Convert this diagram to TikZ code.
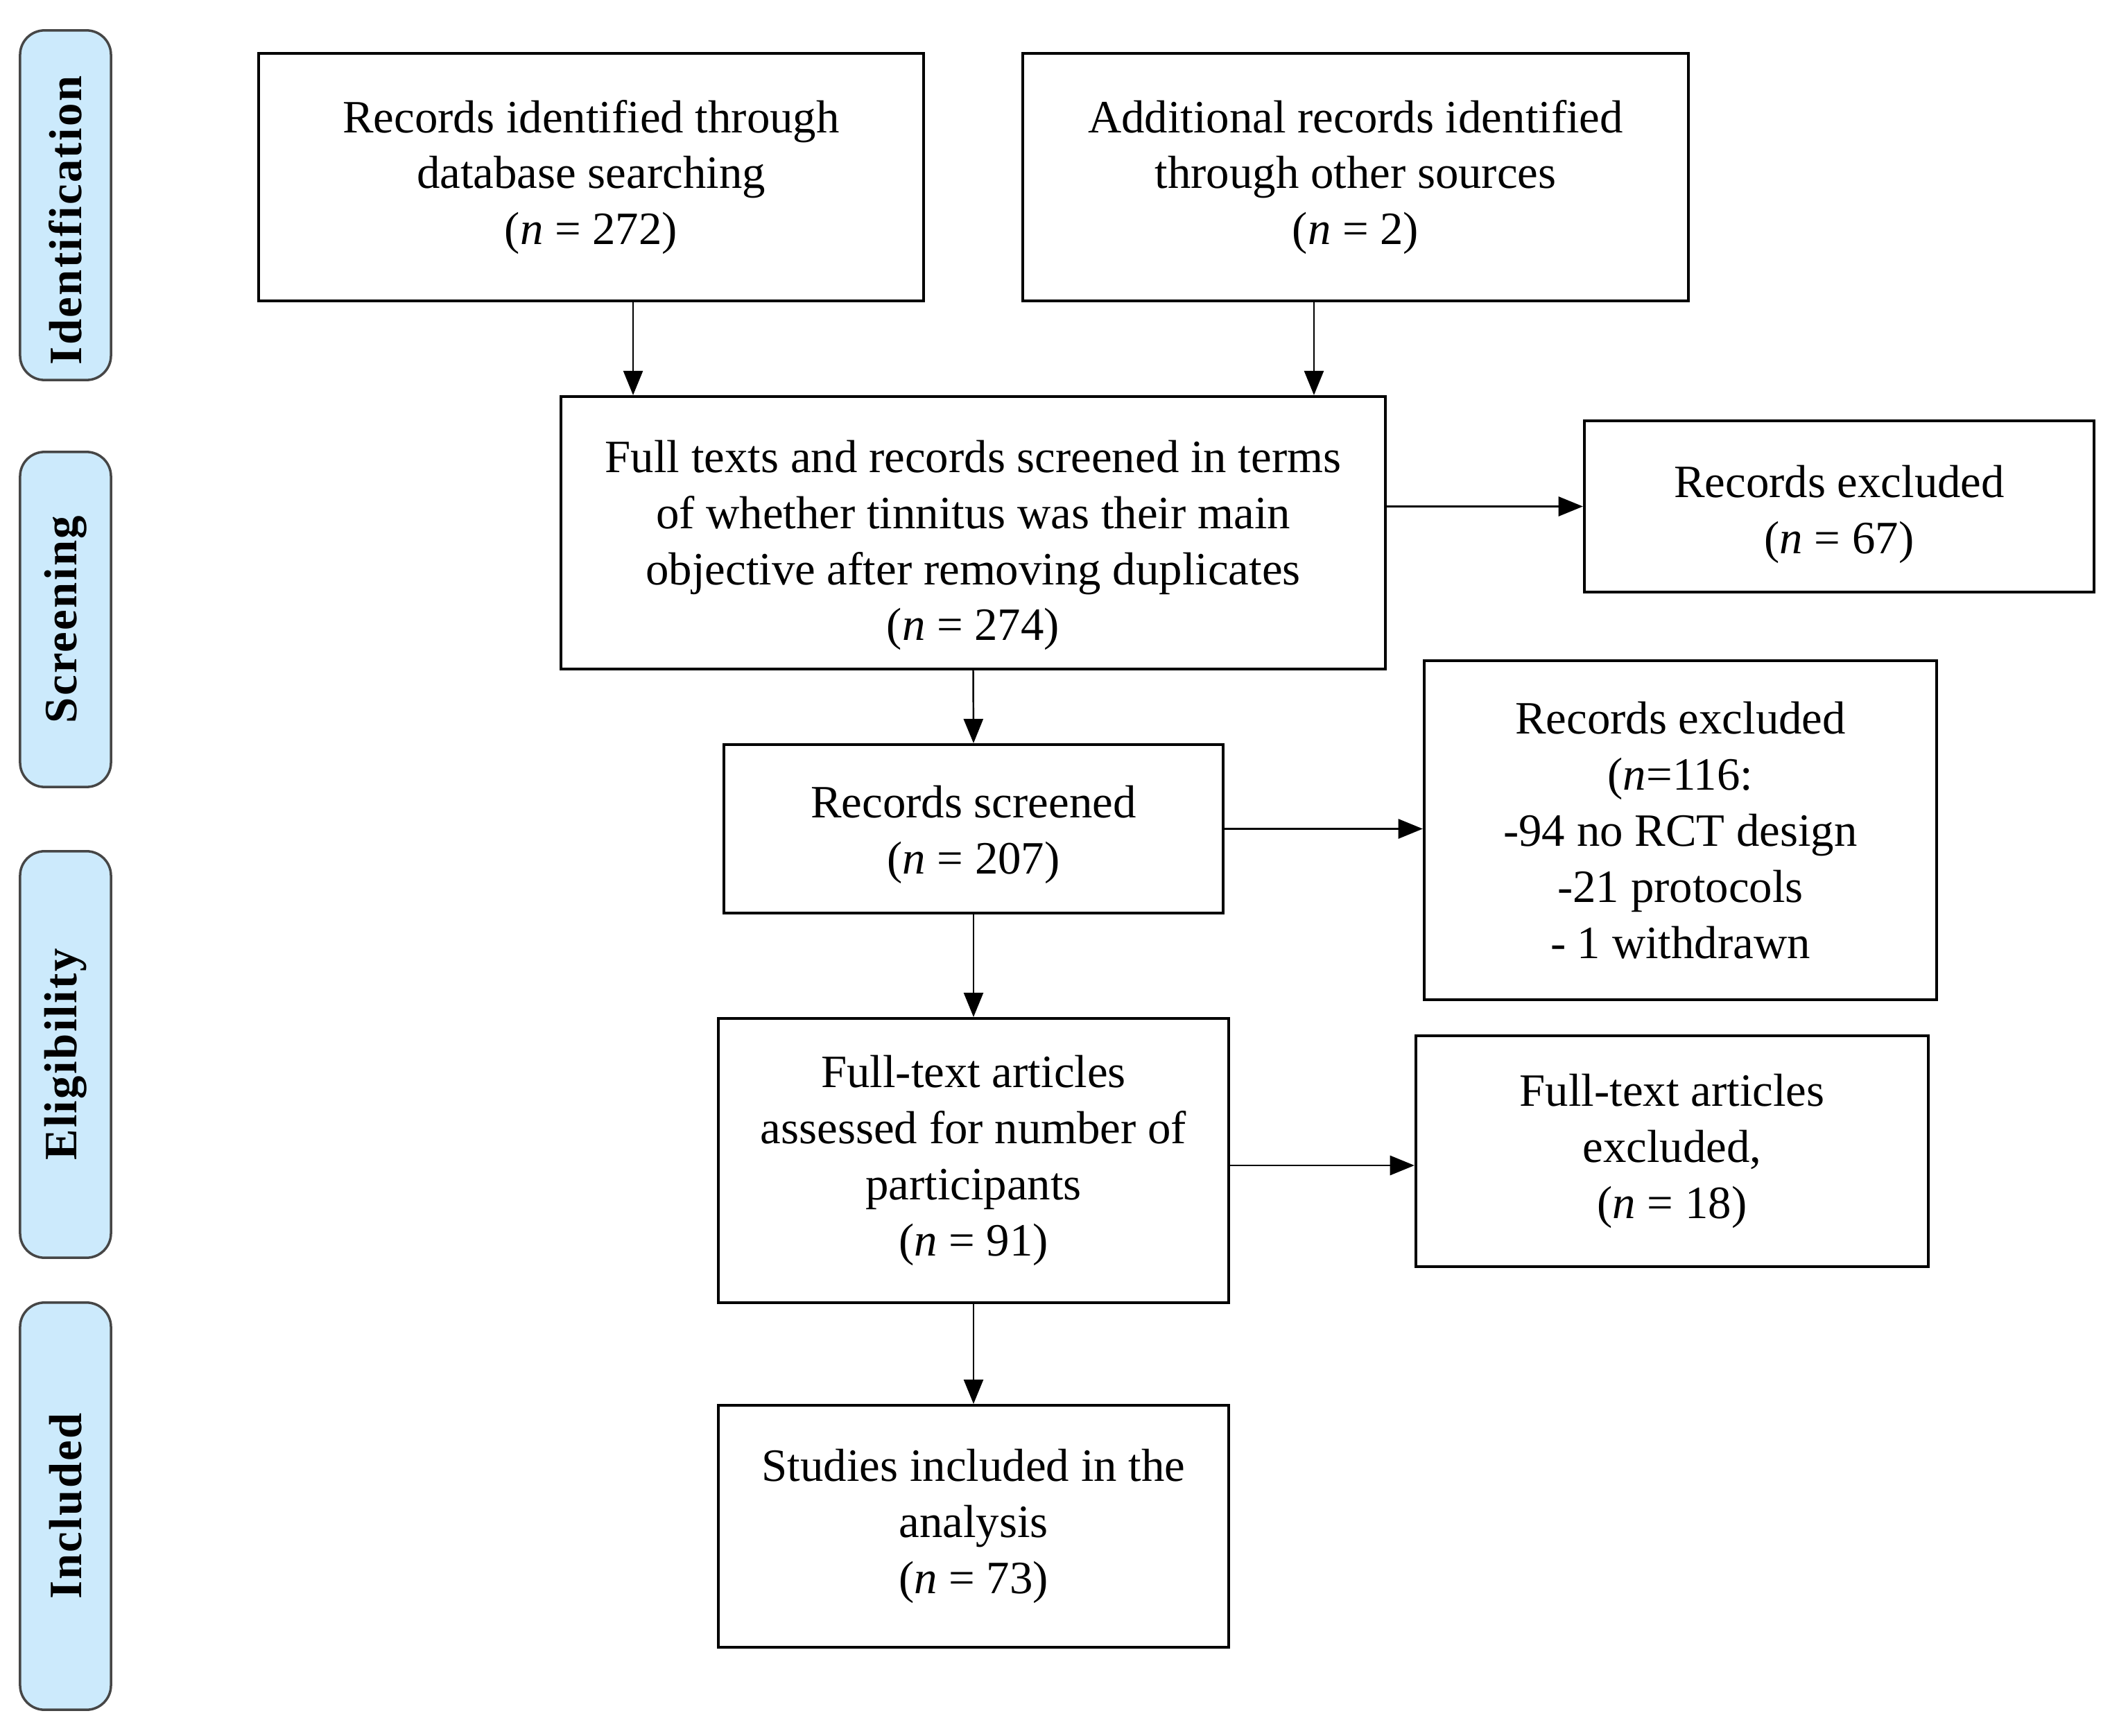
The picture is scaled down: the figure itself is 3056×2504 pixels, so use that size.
\documentclass[tikz,border=0pt]{standalone}
\usepackage{fontspec}
\setmainfont{Liberation Serif}
\usetikzlibrary{arrows.meta}
\definecolor{tabblue}{RGB}{204,234,252}
\definecolor{tabedge}{RGB}{70,70,70}
\begin{document}
\begin{tikzpicture}[x=0.01cm,y=-0.01cm,
  box/.style={draw=black,line width=1.1pt,align=center,inner sep=0pt,font=\fontsize{19}{23}\selectfont},
  txt/.style={align=center,inner sep=0pt,font=\fontsize{19}{23}\selectfont},
  tab/.style={draw=tabedge,fill=tabblue,rounded corners=10pt,line width=1pt,inner sep=0pt,font=\fontsize{19}{20}\selectfont\bfseries\addfontfeatures{LetterSpace=3.5},rotate=90},
  arr/.style={line width=0.7pt,-{Triangle[length=10pt,width=8pt]}}]
\useasboundingbox[fill=white] (0,0) rectangle (3056,2504);

% phase tabs
\node[tab,minimum width=5.04cm,minimum height=1.31cm] (tid) at (94.5,296) {Identification\hspace*{0.44cm}};
\node[tab,minimum width=4.83cm,minimum height=1.31cm] (tsc) at (94.5,893.5) {Screening};
\node[tab,minimum width=5.86cm,minimum height=1.31cm] (tel) at (94.5,1521) {Eligibility};
\node[tab,minimum width=5.87cm,minimum height=1.31cm] (tin) at (94.5,2172.5) {Included};

% boxes
\node[box,minimum width=9.59cm,minimum height=3.57cm] (b1) at (852.5,255.5)
  {Records identified through\\database searching\\(\textit{n} = 272)};
\node[box,minimum width=9.60cm,minimum height=3.57cm] (b2) at (1955,255.5)
  {Additional records identified\\through other sources\\(\textit{n} = 2)};
\node[box,minimum width=11.89cm,minimum height=3.93cm] (full) at (1403.5,768.5) {};
\node[txt] (fulltxt) at ([yshift=-0.18cm]full.center)
  {Full texts and records screened in terms\\of whether tinnitus was their main\\objective after removing duplicates\\(\textit{n} = 274)};
\node[box,minimum width=7.35cm,minimum height=2.47cm] (ex67) at (2652.5,730.5) {};
\node[txt] (ex67txt) at ([yshift=-0.11cm]ex67.center)
  {Records excluded\\(\textit{n} = 67)};
\node[box,minimum width=7.20cm,minimum height=2.43cm] (scr) at (1404,1195.5) {};
\node[txt] (scrtxt) at ([yshift=-0.08cm]scr.center)
  {Records screened\\(\textit{n} = 207)};
\node[box,minimum width=7.39cm,minimum height=4.89cm] (ex116) at (2423.5,1197.5)
  {Records excluded\\(\textit{n}=116:\\-94 no RCT design\\-21 protocols\\- 1 withdrawn};
\node[box,minimum width=7.36cm,minimum height=4.10cm] (fta) at (1404,1674)
  {Full-text articles\\assessed for number of\\participants\\(\textit{n} = 91)};
\node[box,minimum width=7.39cm,minimum height=3.33cm] (ftex) at (2411.5,1660.5)
  {Full-text articles\\excluded,\\(\textit{n} = 18)};
\node[box,minimum width=7.36cm,minimum height=3.49cm] (st) at (1404,2201.5)
  {Studies included in the\\analysis\\(\textit{n} = 73)};

% connectors
\draw[arr] ([xshift=0.605cm]b1.south) -- ([xshift=0.605cm]b1.south |- full.north);
\draw[arr] ([xshift=-0.6cm]b2.south) -- ([xshift=-0.6cm]b2.south |- full.north);
\draw[arr] (full.east |- ex67.west) -- (ex67.west);
\draw[arr] (full.south) -- (scr.north);
\draw[arr] (scr.east) -- (scr.east -| ex116.west);
\draw[arr] (scr.south) -- (fta.north);
\draw[arr] ([yshift=-0.07cm]fta.east) -- ([yshift=-0.07cm]fta.east -| ftex.west);
\draw[arr] (fta.south) -- (st.north);
\end{tikzpicture}
\end{document}
